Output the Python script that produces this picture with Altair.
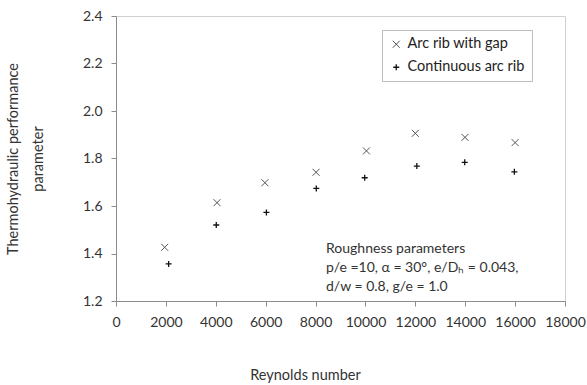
import altair as alt
import pandas as pd

# Reynolds number and thermohydraulic performance for the two rib layouts
series_names = ["Arc rib with gap", "Continuous arc rib"]
re_gap = [1950, 4050, 5970, 8020, 10040, 12000, 13990, 16000]
tpp_gap = [1.426, 1.614, 1.698, 1.742, 1.832, 1.906, 1.889, 1.867]
re_cont = [2110, 4020, 6030, 8030, 9970, 12060, 13980, 15970]
tpp_cont = [1.356, 1.520, 1.573, 1.674, 1.719, 1.768, 1.784, 1.744]

x_ticks = list(range(0, 18001, 2000))
y_ticks = [1.2, 1.4, 1.6, 1.8, 2.0, 2.2, 2.4]

note_lines = [
    "Roughness parameters",
    "p/e =10, \u03b1 = 30\u00b0, e/D\u2095 = 0.043,",
    "d/w = 0.8, g/e = 1.0",
]

df = pd.DataFrame(
    {
        "series": [series_names[0]] * len(re_gap) + [series_names[1]] * len(re_cont),
        "Re": re_gap + re_cont,
        "TPP": tpp_gap + tpp_cont,
    }
)

FONT = "Lato"
TEXT_COLOR = "#333333"

cross_x = "M-1,-1L1,1M-1,1L1,-1"
cross_plus = "M-1,0L1,0M0,-1L0,1"

x_enc = alt.X(
    "Re:Q",
    scale=alt.Scale(domain=[0, 18000], nice=False),
    axis=alt.Axis(
        values=x_ticks,
        format="d",
        labelOverlap=False,
        labelFlush=False,
        labelPadding=9,
        title="Reynolds number",
        titleX=189,
        titleY=74,
        titleBaseline="middle",
        titleAlign="center",
    ),
)
y_enc = alt.Y(
    "TPP:Q",
    scale=alt.Scale(domain=[1.2, 2.4], nice=False, zero=False),
    axis=alt.Axis(
        values=y_ticks,
        format=".1f",
        labelFlush=False,
        labelPadding=9,
        title=["Thermohydraulic  performance", "parameter"],
        titleLineHeight=25,
        titlePadding=37,
    ),
)

points = (
    alt.Chart(df)
    .mark_point(filled=False, opacity=1)
    .encode(
        x=x_enc,
        y=y_enc,
        shape=alt.Shape(
            "series:N",
            scale=alt.Scale(domain=series_names, range=[cross_x, cross_plus]),
            legend=alt.Legend(
                title=None,
                orient="none",
                legendX=266,
                legendY=14,
                strokeColor="#bdbdbd",
                padding=7,
                rowPadding=8,
                labelOffset=4,
                symbolStrokeWidth=1,
                symbolSize=36,
                labelFontSize=14.5,
                labelFont=FONT,
                labelColor="#222222",
                fillColor="white",
            ),
        ),
        color=alt.Color(
            "series:N",
            scale=alt.Scale(domain=series_names, range=["#555555", "#111111"]),
            legend=alt.Legend(title=None, orient="none", legendX=266, legendY=14),
        ),
        size=alt.Size(
            "series:N",
            scale=alt.Scale(domain=series_names, range=[49, 36]),
            legend=None,
        ),
        strokeWidth=alt.StrokeWidth(
            "series:N",
            scale=alt.Scale(domain=series_names, range=[1.0, 1.3]),
            legend=None,
        ),
    )
)

note_df = pd.DataFrame({"Re": [8420], "TPP": [1.419], "label": [note_lines]})
note = (
    alt.Chart(note_df)
    .mark_text(
        align="left",
        baseline="middle",
        font=FONT,
        fontSize=14,
        lineHeight=19,
        color=TEXT_COLOR,
    )
    .encode(x="Re:Q", y="TPP:Q", text="label")
)

chart = (
    alt.layer(points, note)
    .properties(
        width=449,
        height=285,
        autosize=alt.AutoSizeParams(type="none"),
        padding={"left": 116, "top": 16, "right": 22, "bottom": 84},
        background="white",
    )
    .configure_view(stroke="#d0d0d0", strokeWidth=1)
    .configure_axis(
        grid=False,
        domainColor="#8c8c8c",
        tickColor="#8c8c8c",
        tickSize=5,
        labelFont=FONT,
        labelFontSize=14,
        labelColor=TEXT_COLOR,
        titleFont=FONT,
        titleFontSize=14.5,
        titleFontWeight="normal",
        titleColor=TEXT_COLOR,
    )
)

chart.save("out.html", embed_options={"renderer": "svg", "actions": False})
